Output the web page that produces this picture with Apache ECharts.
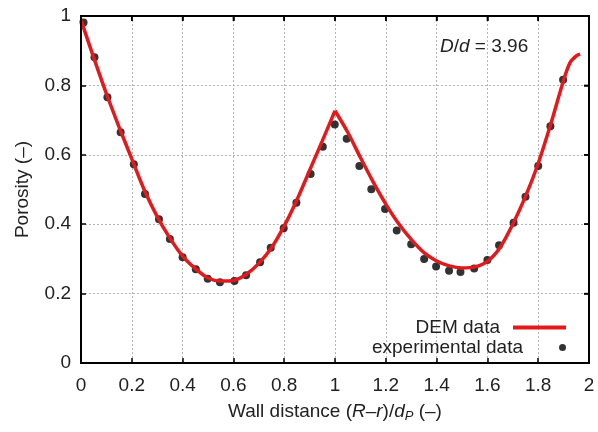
<!DOCTYPE html>
<html>
<head>
<meta charset="utf-8">
<script src="https://cdn.jsdelivr.net/npm/echarts@6/dist/echarts.min.js"></script>
<style>
  html, body { margin: 0; padding: 0; background: #fff; }
  #chart { width: 598px; height: 432px; }
</style>
</head>
<body>
<div id="chart"></div>
<script>
  // axis ranges and ticks
  const xTicks = [0, 0.2, 0.4, 0.6, 0.8, 1, 1.2, 1.4, 1.6, 1.8, 2];
  const yTicks = [0, 0.2, 0.4, 0.6, 0.8, 1];

  // experimental data (black dots)
  const expX = [0.01, 0.053, 0.104, 0.156, 0.208, 0.252, 0.307, 0.350, 0.400, 0.452, 0.499, 0.547, 0.604, 0.650, 0.705, 0.747,
    0.798, 0.848, 0.904, 0.952, 0.999, 1.046, 1.096, 1.143, 1.197, 1.243, 1.300, 1.351, 1.398, 1.449, 1.494, 1.548,
    1.600, 1.646, 1.703, 1.750, 1.800, 1.848, 1.898];
  const expY = [0.981, 0.881, 0.766, 0.665, 0.573, 0.487, 0.414, 0.357, 0.305, 0.270, 0.243, 0.233, 0.236, 0.253, 0.290, 0.332,
    0.388, 0.462, 0.545, 0.623, 0.687, 0.646, 0.568, 0.501, 0.444, 0.382, 0.342, 0.300, 0.278, 0.266, 0.262, 0.272,
    0.297, 0.339, 0.404, 0.479, 0.568, 0.682, 0.816];

  // DEM curve, split at the sharp peak x = 1
  const demLeftX = [0, 0.05, 0.1, 0.15, 0.2, 0.25, 0.3, 0.35, 0.4, 0.45, 0.5, 0.55, 0.6, 0.65, 0.7, 0.75, 0.8, 0.85, 0.9, 0.95, 1.0];
  const demLeftY = [0.988, 0.88, 0.776, 0.68, 0.588, 0.497, 0.422, 0.36, 0.308, 0.272, 0.245, 0.236, 0.238, 0.255, 0.287, 0.332,
    0.395, 0.47, 0.555, 0.64, 0.727];
  const demRightX = [1.0, 1.05, 1.1, 1.15, 1.2, 1.25, 1.3, 1.35, 1.4, 1.45, 1.5, 1.55, 1.6, 1.65, 1.7, 1.75, 1.8, 1.85, 1.9, 1.925, 1.95, 1.965];
  const demRightY = [0.727, 0.665, 0.592, 0.522, 0.458, 0.402, 0.356, 0.318, 0.294, 0.28, 0.274, 0.277, 0.293, 0.333, 0.40, 0.48,
    0.575, 0.69, 0.815, 0.865, 0.885, 0.89];

  const pairs = (xs, ys) => xs.map((x, i) => [x, ys[i]]);
  const xMin = xTicks[0], xMax = xTicks[xTicks.length - 1];
  const yMin = yTicks[0], yMax = yTicks[yTicks.length - 1];

  const font = 'Liberation Sans, Arial, sans-serif';
  const txt = '#222';
  const red = '#e3191c';

  const chart = echarts.init(document.getElementById('chart'));

  const tick = () => ({ show: true, inside: true, length: 5, lineStyle: { color: '#000', width: 1.5 } });
  const frame = () => ({ show: true, onZero: false, lineStyle: { color: '#000', width: 2 } });
  const dots = () => ({ show: true, lineStyle: { color: '#b4b4b4', type: [2, 2], width: 1 } });

  chart.setOption({
    animation: false,
    title: {
      text: '{i|D}/{i|d} = 3.96', left: 440, top: 37, padding: 0,
      textStyle: {
        color: txt, fontSize: 19, fontWeight: 'normal', fontFamily: font,
        rich: { i: { fontStyle: 'italic', fontSize: 19, fontFamily: font, color: txt } }
      }
    },
    grid: { left: 81, right: 9, top: 16, bottom: 69 },
    xAxis: [
      {
        type: 'value', min: xMin, max: xMax, interval: 0.2,
        axisLine: frame(), axisTick: tick(), splitLine: dots(),
        axisLabel: { color: txt, fontSize: 19, fontFamily: font, margin: 13 },
        name: 'Wall distance ({i|R}–{i|r})/{i|d}{sub|P} (–)',
        nameLocation: 'middle', nameGap: 38,
        nameTextStyle: {
          color: txt, fontSize: 19, fontFamily: font,
          rich: {
            i: { fontStyle: 'italic', fontSize: 19, fontFamily: font, color: txt },
            sub: { fontStyle: 'italic', fontSize: 13, fontFamily: font, color: txt, padding: [9, 0, 0, 0] }
          }
        }
      },
      {
        type: 'value', min: xMin, max: xMax, interval: 0.2, position: 'top',
        axisLine: frame(), axisTick: tick(), splitLine: { show: false }, axisLabel: { show: false }
      }
    ],
    yAxis: [
      {
        type: 'value', min: yMin, max: yMax, interval: 0.2,
        axisLine: frame(), axisTick: tick(), splitLine: dots(),
        axisLabel: { color: txt, fontSize: 19, fontFamily: font, margin: 10 },
        name: 'Porosity (–)', nameLocation: 'middle', nameGap: 49,
        nameTextStyle: { color: txt, fontSize: 19, fontFamily: font }
      },
      {
        type: 'value', min: yMin, max: yMax, interval: 0.2, position: 'right',
        axisLine: frame(), axisTick: tick(), splitLine: { show: false }, axisLabel: { show: false }
      }
    ],
    legend: [
      {
        data: [{ name: 'DEM data', icon: 'rect' }], orient: 'vertical', align: 'right', right: 32, top: 318,
        itemWidth: 53, itemHeight: 4, itemGap: 0, padding: 0,
        textStyle: { color: txt, fontSize: 19, fontFamily: font, padding: [0, 8, 0, 0] }
      },
      {
        data: [{ name: 'experimental data', icon: 'circle' }], orient: 'vertical', align: 'right', right: 32, top: 338,
        itemWidth: 53, itemHeight: 7, itemGap: 0, padding: 0,
        textStyle: { color: txt, fontSize: 19, fontFamily: font, padding: [0, 8, 0, 0] }
      }
    ],
    series: [
      {
        name: 'DEM data', type: 'line', data: pairs(demLeftX, demLeftY),
        showSymbol: false, symbol: 'none', smooth: 0.3,
        lineStyle: { color: red, width: 3.5 }, itemStyle: { color: red }
      },
      {
        name: 'DEM data', type: 'line', data: pairs(demRightX, demRightY),
        showSymbol: false, symbol: 'none', smooth: 0.3,
        lineStyle: { color: red, width: 3.5 }, itemStyle: { color: red }
      },
      {
        name: 'experimental data', type: 'scatter', data: pairs(expX, expY),
        symbol: 'circle', symbolSize: 8, itemStyle: { color: '#000' }
      }
    ]
  });

  // plot frame with inward ticks on top and right, placed through the axis scales
  const toPx = (x, y) => chart.convertToPixel({ gridIndex: 0 }, [x, y]);
  const tl = toPx(xMin, yMax);
  const br = toPx(xMax, yMin);
  const black = { stroke: '#000', lineWidth: 1.5 };
  const frameEls = [{
    type: 'rect', z: 100, silent: true,
    shape: { x: tl[0], y: tl[1], width: br[0] - tl[0], height: br[1] - tl[1] },
    style: { fill: 'none', stroke: '#000', lineWidth: 2 }
  }];
  xTicks.forEach(v => {
    const p = toPx(v, yMax);
    frameEls.push({ type: 'line', z: 100, silent: true, shape: { x1: p[0], y1: p[1], x2: p[0], y2: p[1] + 5 }, style: black });
  });
  yTicks.forEach(v => {
    const p = toPx(xMax, v);
    frameEls.push({ type: 'line', z: 100, silent: true, shape: { x1: p[0], y1: p[1], x2: p[0] - 5, y2: p[1] }, style: black });
  });
  chart.setOption({ graphic: frameEls });
</script>
</body>
</html>
